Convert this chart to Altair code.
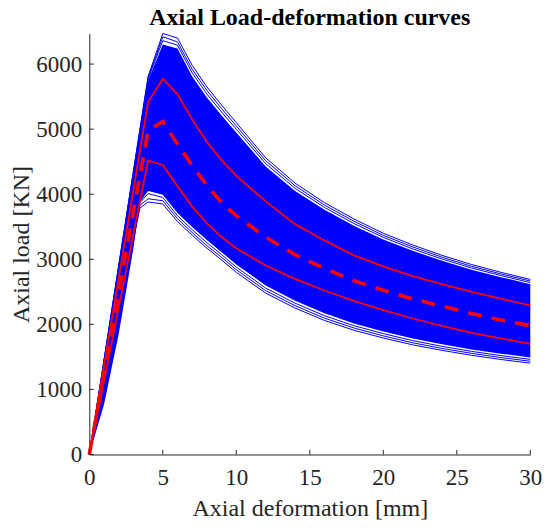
import altair as alt
import pandas as pd

# ---------------- data ----------------
# dense blue bundle of simulated curves: inner envelope (filled)
X_BAND = [0, 1, 2, 3, 3.45, 4, 5, 6, 7, 8, 9, 10, 12, 14, 16, 18, 20, 22, 24, 26, 28, 30]
FILL_HI = [0, 1440, 2880, 4320, 4968, 5750, 6300, 6240, 5810, 5485, 5210, 4950, 4425, 4050,
           3761, 3515, 3306, 3130, 2976, 2841, 2725, 2618]
FILL_LO = [0, 770, 1850, 3170, 3880, 4050, 3990, 3710, 3495, 3295, 3110, 2920, 2598, 2362,
           2170, 2015, 1892, 1783, 1693, 1615, 1550, 1492]

# outer individual blue curves (upper side)
X_UP = [0, 4, 5, 6, 7, 8, 9, 10, 12, 14, 16, 18, 20, 22, 24, 26, 28, 30]
U1 = [0, 5810, 6470, 6400, 5980, 5650, 5370, 5100, 4560, 4170, 3870, 3620, 3400, 3220, 3060, 2920, 2800, 2690]
U2 = [0, 5790, 6420, 6340, 5920, 5595, 5315, 5050, 4515, 4130, 3833, 3585, 3368, 3190, 3032, 2893, 2775, 2666]
U3 = [0, 5770, 6360, 6290, 5865, 5540, 5262, 5000, 4470, 4090, 3797, 3550, 3337, 3160, 3004, 2867, 2750, 2642]

# outer individual blue curves (lower side)
X_LOW = [0, 3.45, 4, 5, 6, 7, 8, 9, 10, 12, 14, 16, 18, 20, 22, 24, 26, 28, 30]
L1 = [0, 3790, 3880, 3850, 3580, 3370, 3170, 2990, 2800, 2480, 2250, 2060, 1910, 1790, 1685, 1600, 1525, 1460, 1404]
L2 = [0, 3830, 3930, 3900, 3625, 3410, 3210, 3030, 2840, 2518, 2287, 2095, 1945, 1823, 1717, 1630, 1555, 1490, 1433]
L3 = [0, 3870, 4010, 3950, 3670, 3455, 3255, 3072, 2880, 2558, 2325, 2133, 1980, 1858, 1750, 1662, 1585, 1520, 1462]

# red statistics curves
X_RED = [0, 4, 5, 6, 7, 8, 9, 10, 12, 14, 16, 18, 20, 22, 24, 26, 28, 30]
MEAN = [0, 4975, 5118, 4770, 4440, 4135, 3870, 3670, 3340, 3070, 2860, 2670, 2525, 2390, 2280, 2165, 2068, 1980]
UPPER = [0, 5416, 5775, 5535, 5150, 4802, 4524, 4283, 3890, 3540, 3290, 3060, 2890, 2740, 2620, 2500, 2395, 2290]
LOWER = [0, 4515, 4450, 4124, 3810, 3552, 3342, 3170, 2905, 2700, 2520, 2360, 2220, 2090, 1975, 1870, 1785, 1700]

X_TICKS = [0, 5, 10, 15, 20, 25, 30]
Y_TICKS = [0, 1000, 2000, 3000, 4000, 5000, 6000]
TITLE = ["Axial Load-deformation curves"]

# ---------------- tables ----------------
band_df = pd.DataFrame({"x": X_BAND, "lo": FILL_LO, "hi": FILL_HI})


def long(name, xs, ys):
    return pd.DataFrame({"x": xs, "y": ys, "s": name})


blue_df = pd.concat([
    long("u1", X_UP, U1), long("u2", X_UP, U2), long("u3", X_UP, U3),
    long("l1", X_LOW, L1), long("l2", X_LOW, L2), long("l3", X_LOW, L3),
])
red_df = pd.concat([long("upper", X_RED, UPPER), long("lower", X_RED, LOWER)])
mean_df = long("mean", X_RED, MEAN)
xt_df = pd.DataFrame({"x": X_TICKS})
yt_df = pd.DataFrame({"y": Y_TICKS})
title_df = pd.DataFrame({"t": TITLE})

W, H = 441, 421
FONT = "Liberation Serif"
INK = "#262626"

xs = alt.Scale(domain=[0, 30], nice=False, zero=False)
ys = alt.Scale(domain=[0, 6470], nice=False, zero=False)

x_axis = alt.Axis(values=X_TICKS, format="d", title="Axial deformation [mm]", grid=False, ticks=False,
                  tickSize=0, labelFont=FONT, labelFontSize=23, labelColor=INK, labelPadding=30,
                  labelBaseline="alphabetic", labelFlush=False, labelOverlap=False,
                  domainColor=INK, domainWidth=1,
                  titleFont=FONT, titleFontSize=24, titleFontWeight="normal", titleColor=INK,
                  titleX=W / 2, titleY=61, titleBaseline="alphabetic", titleAlign="center")
y_axis = alt.Axis(values=Y_TICKS, format="d", title="Axial load [KN]", grid=False, ticks=False,
                  tickSize=0, labelFont=FONT, labelFontSize=23, labelColor=INK, labelPadding=7.6,
                  labelBaseline="middle", labelAlign="right", labelFlush=False, labelOverlap=False,
                  domainColor=INK, domainWidth=1,
                  titleFont=FONT, titleFontSize=24, titleFontWeight="normal", titleColor=INK,
                  titleAngle=270, titleX=-61, titleY=H / 2, titleBaseline="alphabetic",
                  titleAlign="center")

band = alt.Chart(band_df).mark_area(color="#0000ff", opacity=1).encode(
    x=alt.X("x:Q", scale=xs, axis=x_axis),
    y=alt.Y("lo:Q", scale=ys, axis=y_axis),
    y2="hi:Q",
)

blue = alt.Chart(blue_df).mark_line(color="#0000ff", strokeWidth=1).encode(
    x=alt.X("x:Q", scale=xs), y=alt.Y("y:Q", scale=ys), detail="s:N"
)

red = alt.Chart(red_df).mark_line(color="#ff0000", strokeWidth=1.8).encode(
    x=alt.X("x:Q", scale=xs), y=alt.Y("y:Q", scale=ys), detail="s:N"
)

mean = alt.Chart(mean_df).mark_line(color="#ff0000", strokeWidth=3.6, strokeDash=[14, 10]).encode(
    x=alt.X("x:Q", scale=xs), y=alt.Y("y:Q", scale=ys)
)

xticks = alt.Chart(xt_df).mark_rule(color=INK, strokeWidth=1).encode(
    x=alt.X("x:Q", scale=xs), y=alt.value(H), y2=alt.value(H - 4.5)
)
yticks = alt.Chart(yt_df).mark_rule(color=INK, strokeWidth=1).encode(
    y=alt.Y("y:Q", scale=ys), x=alt.value(0), x2=alt.value(4.5)
)

title = alt.Chart(title_df).mark_text(font=FONT, fontSize=24, fontWeight="bold", color="black",
                                      align="center", baseline="alphabetic").encode(
    text="t:N", x=alt.value(W / 2), y=alt.value(-8.5)
)

chart = alt.layer(band, blue, red, mean, xticks, yticks, title).properties(
    width=W,
    height=H,
    autosize=alt.AutoSizeParams(type="none"),
    padding={"left": 81.3, "top": 25.5, "right": 11.6, "bottom": 70},
).configure_view(stroke=None).configure_axis(grid=False)

chart.save("out.html", embed_options={"renderer": "svg", "actions": False})
